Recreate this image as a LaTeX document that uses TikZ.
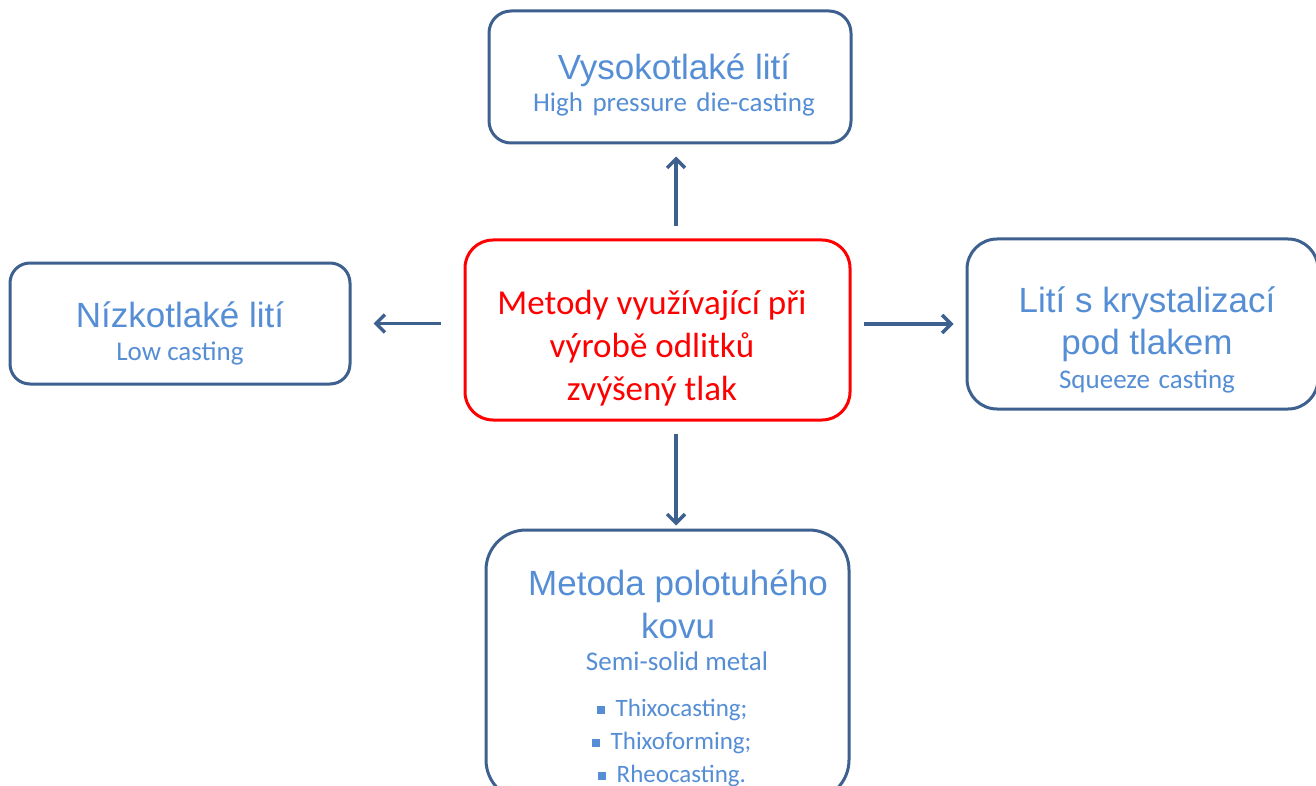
\documentclass[tikz,border=0pt]{standalone}
\usepackage{fontspec}
\newfontfamily\arialf{Liberation Sans}
\newfontfamily\calf{Carlito}
\usetikzlibrary{arrows.meta}
\definecolor{bord}{RGB}{62,96,143}
\definecolor{txtb}{RGB}{85,142,213}
\definecolor{red}{RGB}{255,0,0}
\tikzset{
  box/.style={draw=bord, line width=3pt, rectangle, inner sep=0pt, fill=white},
  redbox/.style={draw=red, line width=3pt, rectangle, inner sep=0pt, fill=white},
  title/.style={anchor=base, inner sep=0pt, text=txtb, font=\arialf\fontsize{35}{40}\selectfont},
  sub/.style={anchor=base, inner sep=0pt, text=txtb, font=\calf\fontsize{27}{32}\selectfont},
  bul/.style={anchor=base west, inner sep=0pt, text=txtb, font=\calf\fontsize{25}{30}\selectfont},
  redtxt/.style={anchor=base, inner sep=0pt, text=red, font=\calf\fontsize{35}{40}\selectfont},
  arr/.style={draw=bord, line width=3.4pt, -{Straight Barb[length=9pt,width=18pt]}}
}
\newcommand{\sqbul}{\textcolor{txtb}{\raisebox{0.1em}{\rule{0.32em}{0.32em}}}\hspace{0.42em}}
\begin{document}
\begin{tikzpicture}[x=1pt,y=-1pt]
\useasboundingbox (0,0) rectangle (1316,786);
\clip (0,0) rectangle (1316,786);
% boxes
\node[box, rounded corners=22pt, minimum width=362pt, minimum height=132pt] (top) at (670,77) {};
\node[box, rounded corners=20pt, minimum width=340pt, minimum height=121pt] (left) at (180,323.5) {};
\node[redbox, rounded corners=28pt, minimum width=385pt, minimum height=180pt] (c) at (657.5,330) {};
\node[box, rounded corners=30pt, minimum width=351pt, minimum height=170pt] (right) at (1142.5,324) {};
\node[box, rounded corners=40pt, minimum width=363pt, minimum height=270pt] (bot) at (667.5,665) {};
% texts
\node[title] (t1) at (674,80) {Vysokotlaké lití};
\node[sub] (t2) at (674,112) {High\hspace{0.35em}pressure\hspace{0.35em}die-casting};
\node[title] (l1) at (180,327) {Nízkotlaké lití};
\node[sub] (l2) at (180,360) {Low casting};
\node[redtxt] (c1) at (652,314) {Metody využívající při};
\node[redtxt] (c2) at (652,357) {výrobě odlitků};
\node[redtxt] (c3) at (652,400) {zvýšený tlak};
\node[title] (r1) at (1147,312) {Lití s krystalizací};
\node[title] (r2) at (1147,354) {pod tlakem};
\node[sub] (r3) at (1147,388) {Squeeze\hspace{0.32em}casting};
\node[title] (b1) at (678,595) {Metoda polotuhého};
\node[title] (b2) at (678,638) {kovu};
\node[sub] (b3) at (677,670) {Semi-solid metal};
\node[bul] (b4) at (597,716) {\sqbul Thixocasting;};
\node[bul] (b5) at (592,749) {\sqbul Thixoforming;};
\node[bul] (b6) at (598,782) {\sqbul Rheocasting.};
% arrows
\coordinate (ax) at (676,0);
\draw[arr, shorten <=12pt, shorten >=12pt] (c.north -| ax) -- (top.south -| ax);
\draw[arr, shorten <=12pt, shorten >=3pt] (c.south -| ax) -- (bot.north -| ax);
\draw[arr, shorten <=23pt, shorten >=22pt] (c.west |- left.east) -- (left.east);
\draw[arr, shorten <=12pt, shorten >=12pt] (c.east |- right.west) -- (right.west);
\end{tikzpicture}
\end{document}
